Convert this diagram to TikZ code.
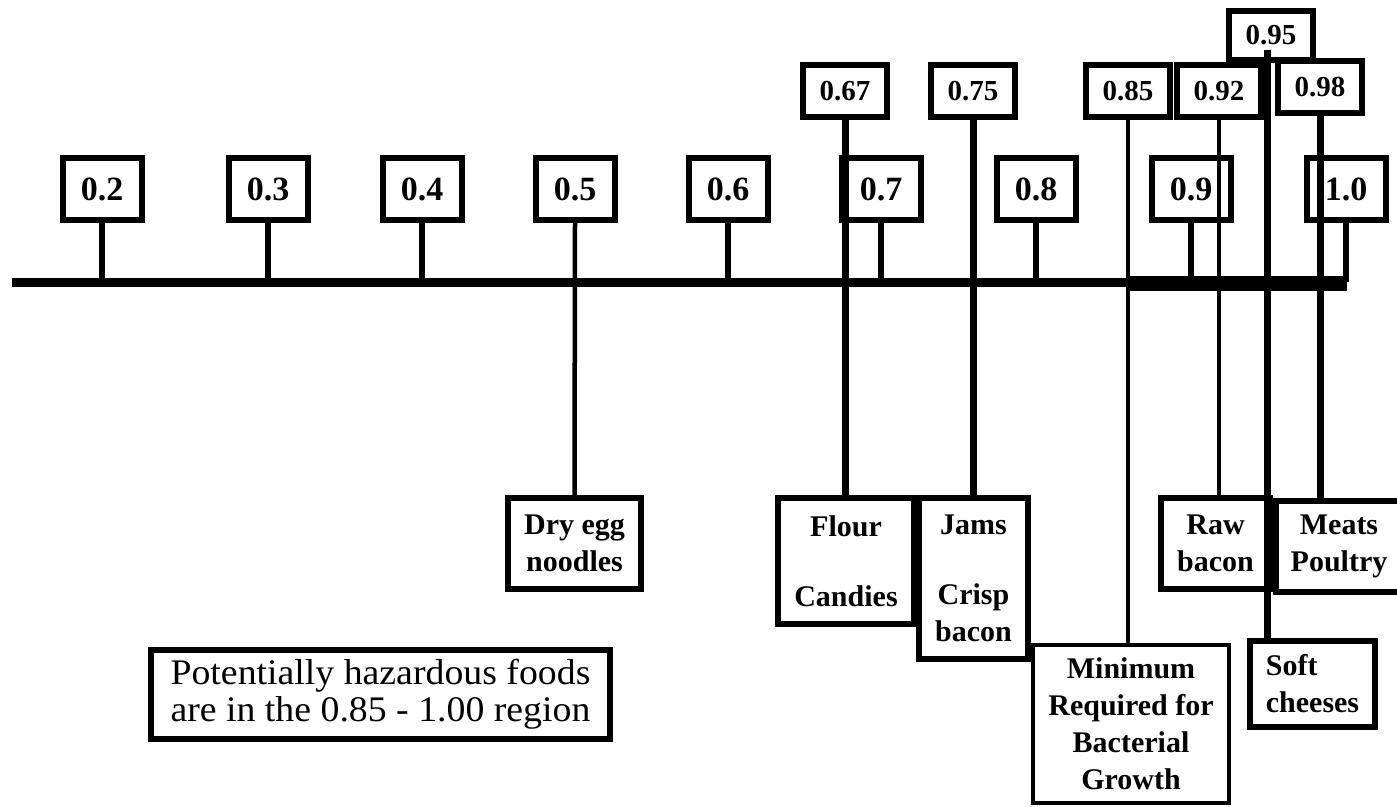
\documentclass[tikz,border=0pt]{standalone}
\usepackage{fontspec}
\setmainfont{Liberation Serif}
\newfontfamily\notefont[FakeStretch=1.05]{Liberation Serif}
\usepackage{tikz}
\tikzset{
  tickbox/.style={draw, line width=6pt, minimum width=79pt, minimum height=62pt,
    inner sep=0pt, font=\bfseries\fontsize{34}{34}\selectfont},
  awbox/.style={draw, line width=6pt, minimum width=84pt, minimum height=52pt,
    inner sep=0pt, font=\bfseries\fontsize{29}{29}\selectfont},
  foodbox/.style={draw, line width=6pt, align=center, inner sep=0pt,
    font=\bfseries\fontsize{30}{37}\selectfont},
  notebox/.style={draw, line width=6pt, align=center, inner sep=0pt,
    font=\notefont\fontsize{36}{37}\selectfont},
  axisline/.style={line width=9pt},
  hazardbar/.style={line width=15pt},
  tickline/.style={line width=6pt},
  thicklink/.style={line width=7pt},
  thinlink/.style={line width=4.5pt}
}

\begin{document}
\begin{tikzpicture}[x=1pt, y=-1pt]
\useasboundingbox (0,0) rectangle (1397,806);

% water activity scale
\coordinate (axL) at (12,282);
\coordinate (axR) at (1347,282);
\coordinate (hzL) at (1126,283);
\coordinate (hzR) at (1347,283);

\node[tickbox] (b02) at (102,189) {0.2};
\node[tickbox] (b03) at (268,189) {0.3};
\node[tickbox] (b04) at (422,189) {0.4};
\node[tickbox] (b05) at (575,189) {0.5};
\node[tickbox] (b06) at (728,189) {0.6};
\node[tickbox] (b07) at (881,189) {0.7};
\node[tickbox] (b08) at (1036,189) {0.8};
\node[tickbox] (b09) at (1191,189) {0.9};
\node[tickbox] (b10) at (1346,189) {1.0};

\node[awbox] (b067) at (845,91) {0.67};
\node[awbox] (b075) at (973,91) {0.75};
\node[awbox] (b085) at (1128,91) {0.85};
\node[awbox] (b092) at (1219,91) {0.92};
\node[awbox, minimum height=49pt] (b095) at (1271,35) {0.95};
\node[awbox] (b098) at (1320,87) {0.98};
\coordinate (c095) at (1267,50);

% foods
\node[foodbox, minimum width=133pt, minimum height=91pt] (noodles) at (574.5,543.5) {Dry egg\\noodles};
\node[foodbox, minimum width=136pt, minimum height=126pt] (flour) at (846,561) {Flour\\[33pt]Candies};
\node[foodbox, minimum width=109pt, minimum height=161pt] (jams) at (973.5,578.5) {Jams\\[33pt]Crisp\\bacon};
\node[foodbox, line width=4pt, minimum width=196pt, minimum height=158pt] (minbox) at (1131,724) {Minimum\\Required for\\Bacterial\\Growth};
\node[foodbox, minimum width=109pt, minimum height=91pt] (rawbacon) at (1215.5,543.5) {Raw\\bacon};
\node[foodbox, minimum width=126pt, minimum height=91pt] (meats) at (1339,546.5) {Meats\\Poultry};
\node[foodbox, align=left, minimum width=125pt, minimum height=86pt] (soft) at (1312.5,684) {Soft\\cheeses};
\node[notebox, minimum width=459pt, minimum height=89pt] (note) at (380.5,694.5) {Potentially hazardous foods\\are in the 0.85 - 1.00 region};

\draw[axisline] (axL) -- (axR);
\draw[hazardbar] (hzL) -- (hzR);

\draw[tickline] (b02.south) -- (b02.south |- axL);
\draw[tickline] (b03.south) -- (b03.south |- axL);
\draw[tickline] (b04.south) -- (b04.south |- axL);
\draw[tickline] (b06.south) -- (b06.south |- axL);
\draw[tickline] (b07.south) -- (b07.south |- axL);
\draw[tickline] (b08.south) -- (b08.south |- axL);
\draw[tickline] (b09.south) -- (b09.south |- axL);
\draw[tickline] (b10.south) -- (b10.south |- axL);

\draw[thinlink] (b05.south) -- (noodles.north);
\draw[thicklink] (b067.south) -- (b067.south |- flour.north);
\draw[thicklink] (b075.south) -- (b075.south |- jams.north);
\draw[thinlink] (b085.south) -- (b085.south |- minbox.north);
\draw[thinlink] (b092.south) -- (b092.south |- rawbacon.north);
\draw[thicklink] (c095) -- (c095 |- soft.north);
\draw[thicklink] (b098.south) -- (b098.south |- meats.north);
\end{tikzpicture}
\end{document}
